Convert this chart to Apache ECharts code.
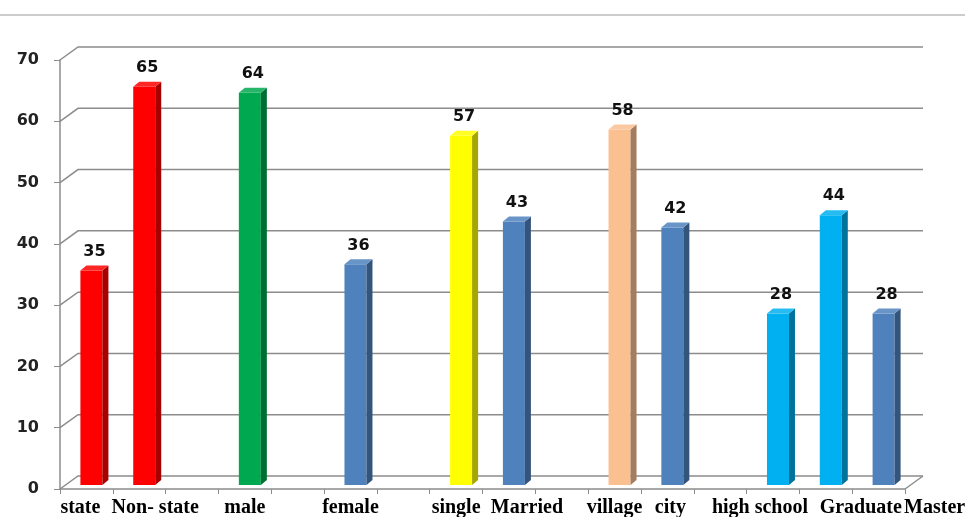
<!DOCTYPE html>
<html>
<head>
<meta charset="utf-8">
<script src="https://cdn.jsdelivr.net/npm/echarts@6/dist/echarts.min.js"></script>
<style>
html, body { margin: 0; padding: 0; background: #fff; }
#main { width: 965px; height: 517px; }
</style>
</head>
<body>
<div id="main"></div>
<script>
// categories (empty slots are gaps in the original chart)
var categories = ['state', 'Non- state', '', 'male', '', 'female', '', 'single', 'Married', '', 'village', 'city', '', 'high school', 'Graduate', 'Master'];
var values = [35, 65, null, 64, null, 36, null, 57, 43, null, 58, 42, null, 28, 44, 28];
var yTicks = [0, 10, 20, 30, 40, 50, 60, 70];

// bar colours, one per slot
var barColors = ['#ff0000', '#ff0000', null, '#00a84f', null, '#4f81bd', null, '#ffff00', '#4f81bd', null, '#fac090', '#4f81bd', null, '#00b0f0', '#00b0f0', '#4f81bd'];

// nudge some x labels like the original (px, + = right)
var labelShift = { 'state': -6, 'Non- state': 16, 'Married': 18, 'city': 3, 'high school': -13, 'Graduate': 35, 'Master': 56 };

var DX = 18, DY = 13;      // depth of the back wall
var BDX = 6, BDY = 5;      // depth of a bar
var gridColor = '#8c8c8c';

function shade(hex, amt) {
    var n = parseInt(hex.slice(1), 16);
    var r = (n >> 16) & 255, g = (n >> 8) & 255, b = n & 255;
    function f(c) {
        c = amt < 0 ? c * (1 + amt) : c + (255 - c) * amt;
        return Math.max(0, Math.min(255, Math.round(c)));
    }
    return 'rgb(' + f(r) + ',' + f(g) + ',' + f(b) + ')';
}

function renderWall(params, api) {
    var v = api.value(1);
    var cs = params.coordSys;
    var y = api.coord([0, v])[1];
    var x0 = cs.x, x1 = cs.x + cs.width;
    var st = { stroke: gridColor, lineWidth: 1.5, fill: null };
    var kids = [{ type: 'polyline', shape: { points: [[x0, y], [x0 + DX, y - DY], [x1 + DX, y - DY]] }, style: st }];
    if (v === 0) {
        kids.push({ type: 'line', shape: { x1: x1, y1: y, x2: x1 + DX, y2: y - DY }, style: st });
    }
    return { type: 'group', children: kids };
}

function renderBar(params, api) {
    var v = api.value(1);
    if (v == null || isNaN(v)) return;
    var idx = api.value(0);
    var base = api.coord([idx, 0]);
    var top = api.coord([idx, v]);
    var w = 22;
    var x = base[0] + 5 - w / 2;
    var yb = base[1] - 4, yt = top[1] - 4;
    var c = barColors[params.dataIndex];
    return {
        type: 'group',
        children: [
            { type: 'rect', shape: { x: x, y: yt, width: w, height: yb - yt }, style: { fill: c } },
            { type: 'polygon', shape: { points: [[x + w, yt], [x + w + BDX, yt - BDY], [x + w + BDX, yb - BDY], [x + w, yb]] }, style: { fill: shade(c, -0.35) } },
            { type: 'polygon', shape: { points: [[x, yt], [x + BDX, yt - BDY], [x + w + BDX, yt - BDY], [x + w, yt]] }, style: { fill: shade(c, 0.15) } },
            { type: 'text', style: { text: String(v), x: x + w / 2 + 3, y: yt - BDY - 6, align: 'center', verticalAlign: 'bottom', font: 'bold 16px "DejaVu Sans"', fill: '#111' } }
        ]
    };
}

var labelFont = { fontFamily: '"Liberation Serif"', fontWeight: 'bold', fontSize: 20, color: '#000' };
var rich = {};
categories.forEach(function (name, i) {
    var s = labelShift[name];
    if (s) {
        rich['s' + i] = Object.assign({
            padding: s > 0 ? [0, 0, 0, 2 * s] : [0, -2 * s, 0, 0]
        }, labelFont);
    }
});

var chart = echarts.init(document.getElementById('main'));
var option = {
    animation: false,
    backgroundColor: '#fff',
    grid: { left: 60, right: 60, top: 60, bottom: 28, containLabel: false, outerBoundsMode: 'none' },
    graphic: [
        { type: 'line', shape: { x1: 0, y1: 15, x2: 965, y2: 15 }, style: { stroke: '#9a9a9a', lineWidth: 1 } }
    ],
    xAxis: {
        type: 'category',
        data: categories,
        boundaryGap: true,
        axisLine: { lineStyle: { color: gridColor, width: 1.5 } },
        axisTick: { show: true, interval: 0, length: 5, lineStyle: { color: gridColor } },
        axisLabel: Object.assign({
            interval: 0,
            margin: 9,
            formatter: function (val, i) {
                return labelShift[val] ? '{s' + i + '|' + val + '}' : val;
            },
            rich: rich
        }, labelFont),
        splitLine: { show: false }
    },
    yAxis: {
        type: 'value',
        min: 0,
        max: 70,
        interval: 10,
        axisLine: { show: true, lineStyle: { color: gridColor, width: 1.5 } },
        axisTick: { show: true, length: 6, lineStyle: { color: gridColor } },
        axisLabel: { margin: 21, fontFamily: '"DejaVu Sans"', fontWeight: 'bold', fontSize: 16, color: '#222' },
        splitLine: { show: false }
    },
    series: [
        {
            type: 'custom',
            renderItem: renderWall,
            data: yTicks.map(function (v) { return [0, v]; }),
            z: 1,
            silent: true
        },
        {
            type: 'custom',
            renderItem: renderBar,
            data: values.map(function (v, i) { return [i, v]; }),
            z: 3
        }
    ]
};
chart.setOption(option);
</script>
</body>
</html>
